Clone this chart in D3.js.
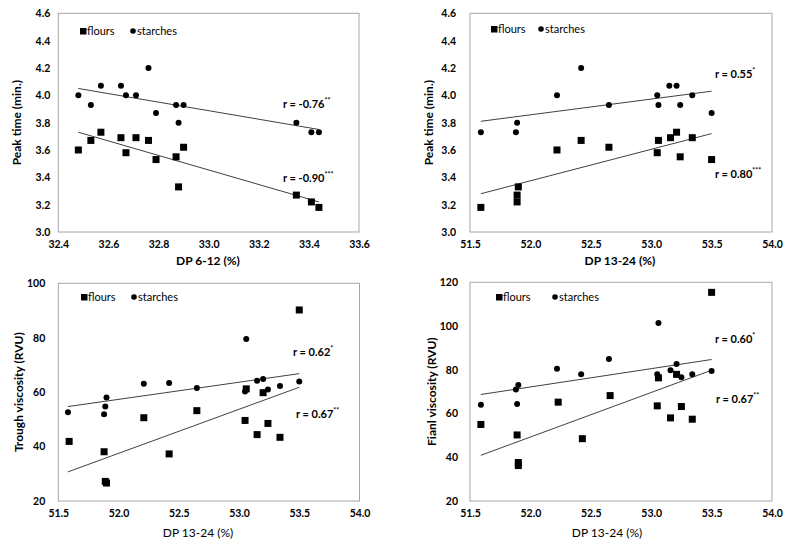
<!DOCTYPE html>
<html><head><meta charset="utf-8">
<script src="https://cdn.jsdelivr.net/npm/d3@7"></script>
<style>
body{margin:0;background:#fff;}
svg{display:block;}
text{font-family:Lato,"Open Sans",sans-serif;fill:#000;}
</style></head>
<body><svg id="c" width="810" height="545"></svg>
<script>
// ---------- DATA ----------
// Panel A: Peak time vs DP 6-12
const dpA_starches = [32.48,32.53,32.57,32.65,32.67,32.71,32.76,32.79,32.87,32.90,32.88,33.35,33.41,33.44];
const peakA_starches = [4.00,3.93,4.07,4.07,4.00,4.00,4.20,3.87,3.93,3.93,3.80,3.80,3.73,3.73];
const dpA_flours = [32.48,32.53,32.57,32.65,32.67,32.71,32.76,32.79,32.87,32.90,32.88,33.35,33.41,33.44];
const peakA_flours = [3.60,3.67,3.73,3.69,3.58,3.69,3.67,3.53,3.55,3.62,3.33,3.27,3.22,3.18];
const trendA_starches = [[32.48,4.05],[33.44,3.75]];
const trendA_flours = [[32.48,3.73],[33.44,3.22]];

// Panel B: Peak time vs DP 13-24
const dpB_starches = [51.59,51.88,51.89,52.22,52.42,52.65,53.05,53.06,53.15,53.21,53.24,53.34,53.50];
const peakB_starches = [3.73,3.73,3.80,4.00,4.20,3.93,4.00,3.93,4.07,4.07,3.93,4.00,3.87];
const dpB_flours = [51.59,51.89,51.89,51.90,52.22,52.42,52.65,53.05,53.06,53.16,53.21,53.24,53.34,53.50];
const peakB_flours = [3.18,3.22,3.27,3.33,3.60,3.67,3.62,3.58,3.67,3.69,3.73,3.55,3.69,3.53];
const trendB_starches = [[51.59,3.81],[53.50,4.03]];
const trendB_flours = [[51.59,3.28],[53.50,3.72]];

// Panel C: Trough viscosity vs DP 13-24
const dpC_starches = [51.58,51.88,51.89,51.90,52.21,52.42,52.65,53.05,53.06,53.15,53.20,53.24,53.34,53.50];
const troughC_starches = [52.6,51.9,54.7,58.0,63.1,63.4,61.5,60.2,79.5,64.2,64.8,61.0,62.3,63.9];
const dpC_flours = [51.59,51.88,51.89,51.90,52.21,52.42,52.65,53.05,53.06,53.15,53.20,53.24,53.34,53.50];
const troughC_flours = [41.9,38.1,27.2,26.6,50.6,37.3,53.2,49.6,61.2,44.4,59.8,48.5,43.4,90.2];
const trendC_starches = [[51.58,54.7],[53.50,66.8]];
const trendC_flours = [[51.58,30.7],[53.50,61.8]];

// Panel D: Final viscosity vs DP 13-24
const dpD_starches = [51.59,51.88,51.90,51.89,52.22,52.42,52.65,53.05,53.06,53.16,53.21,53.25,53.34,53.50];
const finalD_starches = [64.0,71.0,73.0,64.4,80.5,77.9,84.9,77.9,101.4,79.8,82.6,76.6,77.9,79.4];
const dpD_flours = [51.59,51.89,51.90,51.90,52.23,52.43,52.66,53.05,53.06,53.16,53.21,53.25,53.34,53.50];
const finalD_flours = [55.0,50.2,37.6,36.2,65.2,48.5,68.2,63.5,76.3,58.0,77.9,63.2,57.4,115.4];
const trendD_starches = [[51.59,68.7],[53.50,84.7]];
const trendD_flours = [[51.59,40.9],[53.50,79.8]];

// Axis ticks
const ticksX_A = [32.4,32.6,32.8,33.0,33.2,33.4,33.6];
const ticksX_B = [51.5,52.0,52.5,53.0,53.5,54.0];
const ticksY_peak = [3.0,3.2,3.4,3.6,3.8,4.0,4.2,4.4,4.6];
const ticksY_trough = [20,40,60,80,100];
const ticksY_final = [20,40,60,80,100,120];

// Labels
const legendLabels = ["flours","starches"];
const xTitles = ["DP 6-12 (%)","DP 13-24 (%)","DP 13-24 (%)","DP 13-24 (%)"];
const yTitles = ["Peak time (min.)","Peak time (min.)","Trough viscosity (RVU)","Fianl viscosity (RVU)"];
const rStarch = [["r = -0.76","**"],["r = 0.55","*"],["r = 0.62","*"],["r = 0.60","*"]];
const rFlour = [["r = -0.90","***"],["r = 0.80","***"],["r = 0.67","**"],["r = 0.67","**"]];

// ---------- LAYOUT ----------
const panels = [
  {x0:58.3,x1:359,y0:13.3,y1:232, xd:[32.4,33.6], yd:[3.0,4.6], xt:ticksX_A, yt:ticksY_peak, yf:".1f", ypad:8,
   sx:dpA_starches, sy:peakA_starches, fx:dpA_flours, fy:peakA_flours, ts:trendA_starches, tf:trendA_flours,
   leg:[83,31,133], rs:[283,108], rf:[283,182], yTx:17, xTy:265, xBold:true, xTc:208},
  {x0:470,x1:772,y0:13.3,y1:232, xd:[51.5,54.0], yd:[3.0,4.6], xt:ticksX_B, yt:ticksY_peak, yf:".1f", ypad:14,
   sx:dpB_starches, sy:peakB_starches, fx:dpB_flours, fy:peakB_flours, ts:trendB_starches, tf:trendB_flours,
   leg:[494,29,541], rs:[715,78], rf:[715,178], yTx:429, xTy:265, xBold:true, xTc:620},
  {x0:58.3,x1:359.5,y0:283.3,y1:501, xd:[51.5,54.0], yd:[20,100], xt:ticksX_B, yt:ticksY_trough, yf:"d", ypad:13,
   sx:dpC_starches, sy:troughC_starches, fx:dpC_flours, fy:troughC_flours, ts:trendC_starches, tf:trendC_flours,
   leg:[84,297,134], rs:[293,356], rf:[296,418], yTx:19, xTy:537, xBold:false, xTc:198},
  {x0:470,x1:772,y0:282.3,y1:501, xd:[51.5,54.0], yd:[20,120], xt:ticksX_B, yt:ticksY_final, yf:"d", ypad:12,
   sx:dpD_starches, sy:finalD_starches, fx:dpD_flours, fy:finalD_flours, ts:trendD_starches, tf:trendD_flours,
   leg:[499,297,555], rs:[715,343], rf:[716,403], yTx:432, xTy:537, xBold:false, xTc:607}
];

const svg = d3.select("#c");

panels.forEach((p,i)=>{
  const x = d3.scaleLinear().domain(p.xd).range([p.x0,p.x1]);
  const y = d3.scaleLinear().domain(p.yd).range([p.y1,p.y0]);
  const g = svg.append("g");

  // frame
  g.append("rect").attr("x",p.x0).attr("y",p.y0).attr("width",p.x1-p.x0).attr("height",p.y1-p.y0)
    .attr("fill","none").attr("stroke","#a6a6a6").attr("stroke-width",1);

  // axes
  const ax = g.append("g").attr("transform",`translate(0,${p.y1})`)
    .call(d3.axisBottom(x).tickValues(p.xt).tickFormat(d3.format(".1f")).tickSize(0).tickPadding(9));
  const ay = g.append("g").attr("transform",`translate(${p.x0},0)`)
    .call(d3.axisLeft(y).tickValues(p.yt).tickFormat(d3.format(p.yf)).tickSize(0).tickPadding(p.ypad));
  [ax,ay].forEach(a=>{
    a.select(".domain").remove();
    a.selectAll("text").style("font-family","Lato, 'Open Sans', sans-serif")
      .style("font-size","10.5px").style("font-weight","bold").attr("fill","#000");
  });

  // axis titles
  g.append("text").attr("x",p.xTc).attr("y",p.xTy).attr("text-anchor","middle")
    .style("font-size","12px").style("font-weight",p.xBold?"bold":"normal").text(xTitles[i]);
  g.append("text").attr("transform",`translate(${p.yTx},${(p.y0+p.y1)/2}) rotate(-90)`)
    .attr("text-anchor","middle").attr("dy","0.35em")
    .style("font-size","12px").style("font-weight","bold").text(yTitles[i]);

  // trend lines
  const line = d3.line().x(d=>x(d[0])).y(d=>y(d[1]));
  [p.ts,p.tf].forEach(t=>{
    g.append("path").attr("d",line(t)).attr("fill","none").attr("stroke","#404040").attr("stroke-width",1);
  });

  // points
  const fl = p.fx.map((v,k)=>[v,p.fy[k]]);
  const st = p.sx.map((v,k)=>[v,p.sy[k]]);
  g.selectAll(".sq").data(fl).enter().append("rect")
    .attr("x",d=>x(d[0])-3.5).attr("y",d=>y(d[1])-3.5).attr("width",7).attr("height",7).attr("fill","#000");
  g.selectAll(".ci").data(st).enter().append("circle")
    .attr("cx",d=>x(d[0])).attr("cy",d=>y(d[1])).attr("r",3).attr("fill","#000");

  // legend
  const [lx,ly,cx] = p.leg;
  g.append("rect").attr("x",lx-3).attr("y",ly-3).attr("width",6.5).attr("height",6.5).attr("fill","#000");
  g.append("text").attr("x",lx+4).attr("y",ly).attr("dy","0.35em").style("font-size","11px").text(legendLabels[0]);
  g.append("circle").attr("cx",cx).attr("cy",ly).attr("r",2.8).attr("fill","#000");
  g.append("text").attr("x",cx+4).attr("y",ly).attr("dy","0.35em").style("font-size","11px").text(legendLabels[1]);

  // r annotations
  [[p.rs,rStarch[i]],[p.rf,rFlour[i]]].forEach(([pos,lab])=>{
    const t = g.append("text").attr("x",pos[0]).attr("y",pos[1])
      .style("font-size","11px").style("font-weight","bold");
    t.append("tspan").text(lab[0]);
    t.append("tspan").attr("dy","-5").style("font-size","7px").text(lab[1]);
  });
});
</script>
</body></html>
